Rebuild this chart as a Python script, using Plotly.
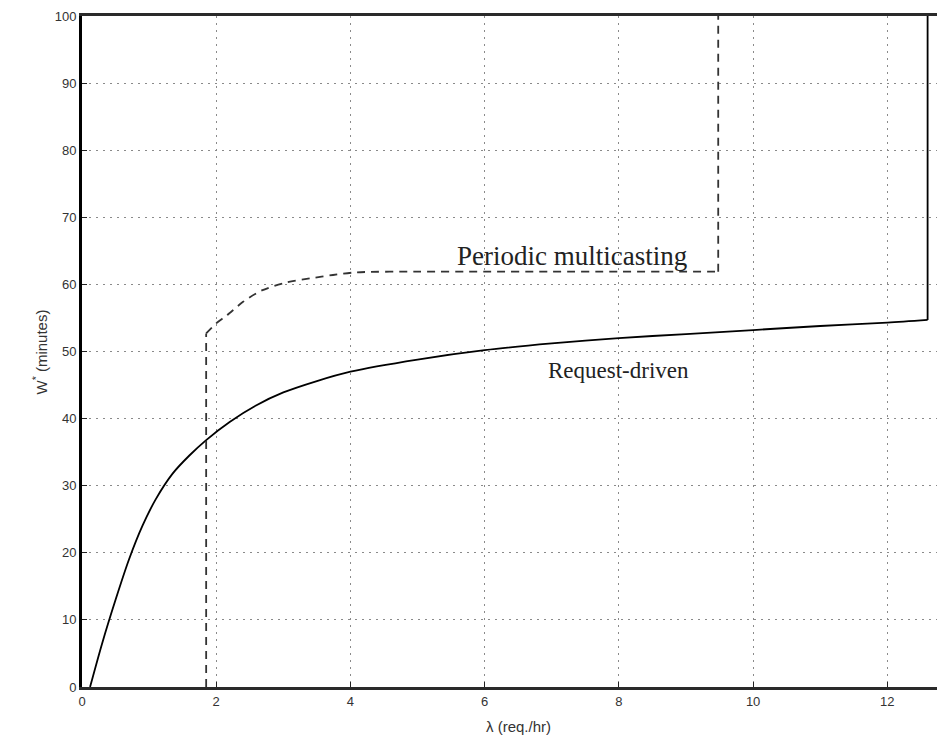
import plotly.graph_objects as go

# Request-driven curve (solid)
rd_x = [0.12, 0.3, 0.5, 0.7, 0.9, 1.1, 1.35, 1.6, 1.85, 2.2, 2.6, 3.0, 3.5, 4.0, 5.0, 6.0, 7.0, 8.0, 9.0, 10.0, 11.0, 12.0, 12.6, 12.6]
rd_y = [0.0, 6.5, 13.0, 19.0, 24.0, 28.0, 31.8, 34.5, 36.8, 39.5, 42.0, 43.9, 45.6, 47.0, 48.8, 50.2, 51.2, 52.0, 52.6, 53.2, 53.8, 54.3, 54.7, 100.0]

# Periodic multicasting curve (dashed)
pm_x = [1.85, 1.85, 2.0, 2.16, 2.4, 2.68, 3.05, 3.4, 3.74, 4.09, 5.0, 6.0, 7.0, 8.0, 9.0, 9.48, 9.48]
pm_y = [0.0, 52.7, 54.2, 55.4, 57.4, 59.1, 60.3, 60.9, 61.4, 61.8, 61.9, 61.9, 61.9, 61.9, 61.9, 61.9, 100.0]

x_ticks = [0, 2, 4, 6, 8, 10, 12]
y_ticks = [0, 10, 20, 30, 40, 50, 60, 70, 80, 90, 100]

fig = go.Figure()
solid = dict(color="black", width=1.8)
dashed = dict(color="#333333", width=1.8, dash="8px,6px")

# request-driven: smooth part + final vertical rise
fig.add_trace(go.Scatter(x=rd_x[:-1], y=rd_y[:-1], mode="lines", line_shape="spline",
                         line=dict(**solid, smoothing=0.8), showlegend=False))
fig.add_trace(go.Scatter(x=rd_x[-2:], y=rd_y[-2:], mode="lines",
                         line=solid, showlegend=False))

# periodic multicasting: initial vertical, smooth part, final vertical
fig.add_trace(go.Scatter(x=pm_x[:2], y=pm_y[:2], mode="lines",
                         line=dashed, showlegend=False))
fig.add_trace(go.Scatter(x=pm_x[1:-1], y=pm_y[1:-1], mode="lines", line_shape="spline",
                         line=dict(**dashed, smoothing=0.8), showlegend=False))
fig.add_trace(go.Scatter(x=pm_x[-2:], y=pm_y[-2:], mode="lines",
                         line=dashed, showlegend=False))

tickfont = dict(family="Liberation Sans, Arial", size=13, color="#333333")
grid = dict(showgrid=True, gridcolor="#8a8a8a", griddash="2px,5px", gridwidth=1)
fig.update_xaxes(range=[0, 12.74], tickvals=x_ticks, ticktext=[str(v) for v in x_ticks],
                 showline=True, linecolor="#2a2a2a", linewidth=3, mirror=True,
                 ticks="inside", ticklen=5, tickcolor="#222222", tickfont=tickfont,
                 zeroline=False, **grid)
fig.update_yaxes(range=[0, 100], tickvals=y_ticks, ticktext=[str(v) for v in y_ticks],
                 showline=True, linecolor="black", linewidth=3,
                 ticks="inside", ticklen=5, tickcolor="#222222", tickfont=tickfont,
                 zeroline=False, **grid)

fig.add_annotation(x=(572 - 82) / 67.1, y=(687 - 256) / 6.71, text="Periodic multicasting",
                   showarrow=False,
                   font=dict(family="Liberation Serif, Times New Roman", size=27, color="#222222"))
fig.add_annotation(x=(618 - 82) / 67.1, y=(687 - 370) / 6.71, text="Request-driven",
                   showarrow=False,
                   font=dict(family="Liberation Serif, Times New Roman", size=23, color="#222222"))

fig.add_annotation(xref="paper", yref="paper", x=(518 - 82) / 855, y=(687 - 726) / 671,
                   yanchor="middle", text="λ (req./hr)", showarrow=False,
                   font=dict(family="Liberation Sans, Arial", size=15, color="#333333"))
fig.add_annotation(xref="paper", yref="paper", x=(29 - 82) / 855, y=(687 - 352) / 671,
                   text="W<sup>*</sup> (minutes)", textangle=-90, showarrow=False,
                   font=dict(family="Liberation Sans, Arial", size=15, color="#333333"))

fig.update_layout(width=937, height=739, margin=dict(l=82, r=0, t=16, b=52),
                  plot_bgcolor="white", paper_bgcolor="white")

fig.write_html("out.html")
